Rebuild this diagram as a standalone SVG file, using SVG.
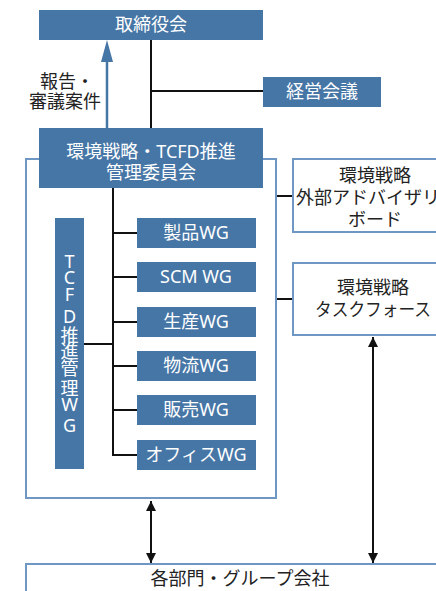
<svg xmlns="http://www.w3.org/2000/svg" width="436" height="591" viewBox="0 0 436 591">
<defs>
<style>
.b{fill:#4676a6}
.o{fill:#fff;stroke:#6f97c4;stroke-width:2}
.w{fill:#fff;font-family:"Noto Sans","Noto Sans CJK JP",sans-serif;font-size:18px;text-anchor:middle}
.k{fill:#222;font-family:"Noto Sans","Noto Sans CJK JP",sans-serif;font-size:18px;text-anchor:middle}
.l{stroke:#111;stroke-width:2;fill:none}
</style>
<marker id="ah" viewBox="0 0 10 10" refX="10" refY="5" markerWidth="5" markerHeight="5" markerUnits="strokeWidth" orient="auto-start-reverse"><path d="M0,0L10,5L0,10z" fill="#111"/></marker>
</defs>
<g id="connectors">
<line class="l" x1="151" y1="40" x2="151" y2="128"/>
<line class="l" x1="151" y1="91" x2="263" y2="91"/>
<line x1="107" y1="128" x2="107" y2="60" stroke="#4676a6" stroke-width="2.5"/>
<path d="M107,40L113,62L101,62z" fill="#4676a6"/>
<line class="l" x1="276" y1="196" x2="293" y2="196"/>
<line class="l" x1="276" y1="299" x2="293" y2="299"/>
</g>
<g id="outer"><rect class="o" x="26" y="159" width="250" height="339"/></g>
<g id="advisory"><rect class="o" x="293" y="159" width="165" height="73"/>
<text class="k" x="375" y="182">環境戦略</text>
<text class="k" x="377" y="204">外部アドバイザリー</text>
<text class="k" x="375" y="226">ボード</text></g>
<g id="taskforce"><rect class="o" x="293" y="263" width="165" height="72"/>
<text class="k" x="373" y="294">環境戦略</text>
<text class="k" x="373" y="316" textLength="116" lengthAdjust="spacingAndGlyphs">タスクフォース</text></g>
<g id="departments"><rect class="o" x="26" y="564" width="430" height="40"/>
<text class="k" x="240" y="585">各部門・グループ会社</text></g>
<g id="connectors2">
<line class="l" x1="113" y1="188" x2="113" y2="455"/>
<line class="l" x1="113" y1="233" x2="137" y2="233"/>
<line class="l" x1="113" y1="277" x2="137" y2="277"/>
<line class="l" x1="113" y1="322" x2="137" y2="322"/>
<line class="l" x1="113" y1="366" x2="137" y2="366"/>
<line class="l" x1="113" y1="410" x2="137" y2="410"/>
<line class="l" x1="112" y1="455" x2="137" y2="455"/>
<line class="l" x1="84" y1="344" x2="113" y2="344"/>
<line class="l" x1="151" y1="501" x2="151" y2="563" marker-start="url(#ah)" marker-end="url(#ah)"/>
<line class="l" x1="373" y1="337" x2="373" y2="563" marker-start="url(#ah)" marker-end="url(#ah)"/>
</g>
<g id="board"><rect class="b" x="39" y="10" width="224" height="30"/><text class="w" x="151" y="31">取締役会</text></g>
<g id="management"><rect class="b" x="263" y="77" width="118" height="30"/><text class="w" x="322" y="98">経営会議</text></g>
<g id="label"><text class="k" x="67" y="88">報告・</text><text class="k" x="65" y="108">審議案件</text></g>
<g id="committee"><rect class="b" x="39" y="128" width="224" height="60"/>
<text class="w" x="151" y="158">環境戦略・TCFD推進</text>
<text class="w" x="151" y="179">管理委員会</text></g>
<g id="tcfdwg"><rect class="b" x="55" y="218" width="29" height="251"/>
<text class="w"><tspan x="69.5" y="268">T</tspan><tspan x="69.5" y="284">C</tspan><tspan x="69.5" y="301">F</tspan><tspan x="69.5" y="323">D</tspan><tspan x="69.5" y="342">推</tspan><tspan x="69.5" y="358">進</tspan><tspan x="69.5" y="375">管</tspan><tspan x="69.5" y="395">理</tspan><tspan x="69.5" y="411">W</tspan><tspan x="69.5" y="432">G</tspan></text></g>
<g id="wg1"><rect class="b" x="137" y="218" width="119" height="30"/><text class="w" x="196" y="239">製品WG</text></g>
<g id="wg2"><rect class="b" x="137" y="262" width="119" height="30"/><text class="w" x="196" y="283">SCM WG</text></g>
<g id="wg3"><rect class="b" x="137" y="307" width="119" height="30"/><text class="w" x="196" y="328">生産WG</text></g>
<g id="wg4"><rect class="b" x="137" y="351" width="119" height="30"/><text class="w" x="196" y="372">物流WG</text></g>
<g id="wg5"><rect class="b" x="137" y="395" width="119" height="30"/><text class="w" x="196" y="416">販売WG</text></g>
<g id="wg6"><rect class="b" x="137" y="440" width="119" height="30"/><text class="w" x="196" y="461">オフィスWG</text></g>
</svg>
